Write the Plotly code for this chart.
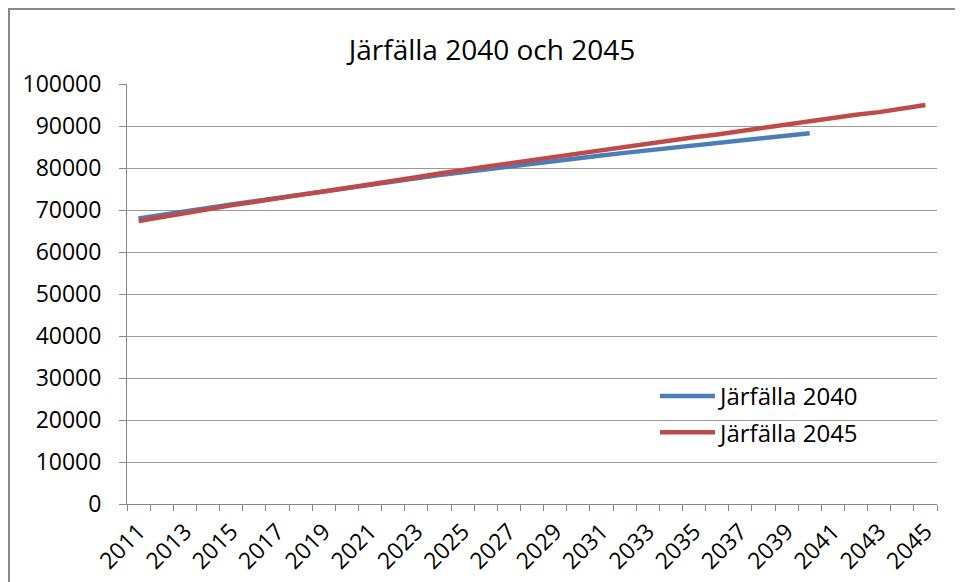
import plotly.graph_objects as go

years_2040 = list(range(2011, 2041))
years_2045 = list(range(2011, 2046))
jarfalla_2040 = [68000, 68900, 69700, 70500, 71300, 72100, 72900, 73700, 74500, 75300,
                 76100, 76900, 77600, 78300, 79000, 79700, 80400, 81100, 81800, 82400,
                 83000, 83600, 84200, 84800, 85300, 85800, 86400, 87000, 87600, 88300]
jarfalla_2045 = [67400, 68400, 69300, 70200, 71100, 72000, 72800, 73600, 74400, 75200,
                 76100, 77000, 77800, 78700, 79600, 80300, 81100, 81900, 82700, 83400,
                 84200, 85000, 85800, 86600, 87300, 88000, 88800, 89600, 90500, 91300,
                 92000, 92700, 93300, 94200, 95000]
tick_years = list(range(2011, 2046, 2))
title_text = "Järfälla 2040 och 2045"
name_2040 = "Järfälla 2040"
name_2045 = "Järfälla 2045"

FONT = "Open Sans"
W, H = 963, 582
# page has an 8px body margin: figure coords = page coords - 8
L, R, T, B = 119, 34, 76, 86
pw, ph = W - L - R, H - T - B

fig = go.Figure()
fig.add_trace(go.Scatter(x=years_2040, y=jarfalla_2040, mode="lines", name=name_2040,
                         legendgroup="a", line=dict(color="#4A7EBB", width=4.5)))
fig.add_trace(go.Scatter(x=years_2045, y=jarfalla_2045, mode="lines", name=name_2045,
                         legendgroup="b", line=dict(color="#BE4B48", width=4.5)))

def px_to_paper_x(px):
    return (px - L) / pw

def px_to_paper_y(py):
    return 1 - (py - T) / ph

fig.update_layout(
    width=W, height=H,
    margin=dict(l=L, r=R, t=T, b=B, autoexpand=False),
    paper_bgcolor="white", plot_bgcolor="white",
    font=dict(family=FONT, color="#000000", size=23),
    title=dict(text=title_text, x=484 / W, xref="container", xanchor="center",
               y=1 - 42 / H, yref="container", yanchor="middle",
               font=dict(family=FONT, size=28, color="#000000")),
    showlegend=True,
    legend=dict(x=px_to_paper_x(647), y=px_to_paper_y(366), xanchor="left", yanchor="top",
                bgcolor="rgba(0,0,0,0)", font=dict(family=FONT, size=24),
                tracegroupgap=2, itemwidth=55),
    xaxis=dict(
        range=[2010.5, 2045.5], showgrid=False, zeroline=False, automargin=False,
        tickvals=tick_years, ticktext=[str(y) for y in tick_years],
        tickangle=-45, ticks="", tickfont=dict(family=FONT, size=23),
        showline=True, linecolor="#868686", linewidth=1,
        minor=dict(tick0=2010.5, dtick=1, ticks="outside", ticklen=6,
                   tickcolor="#868686", tickwidth=1, showgrid=False),
        ticklabelstandoff=4,
    ),
    yaxis=dict(
        range=[0, 100000], dtick=10000, showgrid=True, gridcolor="#9a9a9a", gridwidth=1,
        zeroline=False, showline=True, linecolor="#868686", linewidth=1, automargin=False,
        ticks="outside", ticklen=7, tickcolor="#868686", tickformat="d",
        tickfont=dict(family=FONT, size=23), ticklabelstandoff=13,
    ),
    shapes=[dict(type="rect", xref="paper", yref="paper",
                 x0=px_to_paper_x(1), x1=px_to_paper_x(950),
                 y0=px_to_paper_y(600), y1=px_to_paper_y(1),
                 line=dict(color="#888888", width=2), fillcolor="rgba(0,0,0,0)",
                 layer="below")],
)

fig.write_html("out.html")
